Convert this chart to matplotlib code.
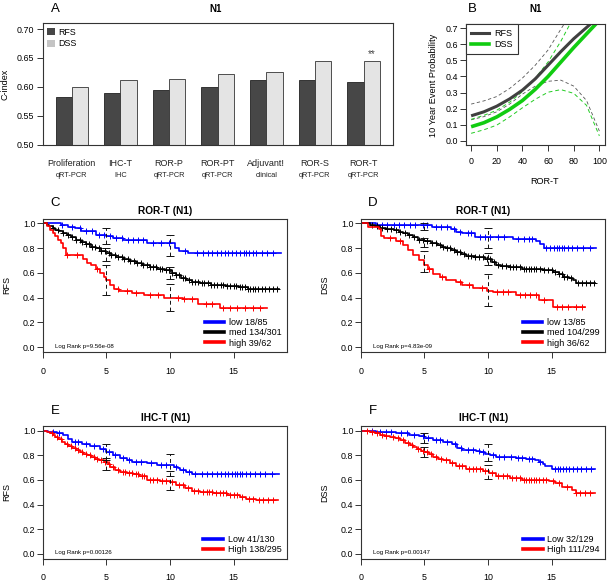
import numpy as np
import matplotlib
matplotlib.use('Agg')
import matplotlib.pyplot as plt
import matplotlib.transforms as mtransforms
from matplotlib.patches import Patch
from matplotlib.lines import Line2D

plt.rcParams['font.family'] = 'Liberation Sans'

W, H = 612, 584

# ---- panel A: C-index bars
a_names = ['Proliferation', 'IHC-T', 'ROR-P', 'ROR-PT', 'Adjuvant!', 'ROR-S', 'ROR-T']
a_methods = ['qRT-PCR', 'IHC', 'qRT-PCR', 'qRT-PCR', 'clinical', 'qRT-PCR', 'qRT-PCR']
a_rfs = [0.583, 0.590, 0.594, 0.599, 0.611, 0.612, 0.609]
a_dss = [0.600, 0.611, 0.614, 0.622, 0.626, 0.645, 0.644]

# ---- panel B: 10 year event probability vs ROR-T
b_x = [0, 10, 20, 30, 40, 50, 60, 70, 80, 90, 100]
b_rfs = [0.155, 0.18, 0.215, 0.26, 0.315, 0.385, 0.47, 0.555, 0.635, 0.705, 0.775]
b_rfs_hi = [0.228, 0.248, 0.275, 0.325, 0.39, 0.47, 0.565, 0.695, 0.82, 0.95, 1.1]
b_rfs_lo = [0.13, 0.15, 0.18, 0.228, 0.29, 0.34, 0.37, 0.377, 0.34, 0.25, 0.06]
b_dss = [0.087, 0.112, 0.148, 0.195, 0.25, 0.32, 0.40, 0.49, 0.58, 0.665, 0.75]
b_dss_hi = [0.133, 0.158, 0.19, 0.24, 0.305, 0.39, 0.49, 0.62, 0.77, 0.92, 1.05]
b_dss_lo = [0.046, 0.068, 0.097, 0.148, 0.205, 0.258, 0.302, 0.318, 0.295, 0.22, 0.03]

# ---- Kaplan-Meier curves (step times / survival), censor times, CI at 5 and 10 yrs
ci_times = [5, 10]

c_low_t = [0, 1.4, 2.0, 2.5, 3.0, 4.2, 5.0, 5.5, 6.3, 8.2, 10.4, 10.7, 11.4, 18.7]
c_low_s = [1.0, 0.99, 0.975, 0.96, 0.94, 0.91, 0.895, 0.88, 0.865, 0.84, 0.80, 0.78, 0.76, 0.76]
c_low_c = [1.5, 2.3, 2.9, 3.4, 3.9, 4.4, 4.8, 5.3, 5.8, 6.2, 6.7, 7.1, 7.5, 7.9, 8.7, 9.3, 9.9,
           11.2, 12.1, 12.6, 13.0, 13.3, 13.7, 14.0, 14.3, 14.6, 14.9, 15.2, 15.5, 15.8, 16.0,
           16.2, 16.5, 16.8, 17.2, 17.6, 18.1]
c_low_ci = [(0.83, 0.96), (0.74, 0.91)]
c_med_t = [0, 0.3, 0.5, 0.8, 1.0, 1.3, 1.6, 1.9, 2.2, 2.6, 3.0, 3.4, 3.8, 4.2, 4.6, 5.0, 5.4, 5.8,
           6.3, 6.8, 7.3, 7.8, 8.4, 9.0, 9.6, 10.2, 10.5, 10.9, 11.3, 11.7, 12.4, 13.2, 14.4, 15.4,
           16.1, 18.6]
c_med_s = [1.0, 0.99, 0.98, 0.965, 0.95, 0.935, 0.92, 0.905, 0.89, 0.87, 0.85, 0.83, 0.81, 0.80,
           0.78, 0.76, 0.745, 0.725, 0.71, 0.695, 0.68, 0.665, 0.645, 0.635, 0.62, 0.60, 0.58,
           0.56, 0.54, 0.525, 0.515, 0.505, 0.495, 0.485, 0.47, 0.47]
c_med_c = [0.8, 1.2, 1.6, 2.0, 2.3, 2.6, 2.9, 3.1, 3.4, 3.6, 3.9, 4.1, 4.4, 4.6, 4.9, 5.2, 5.4,
           5.7, 5.9, 6.2, 6.4, 6.7, 6.9, 7.2, 7.4, 7.7, 7.9, 8.2, 8.4, 8.7, 8.9, 9.2, 9.4, 9.7,
           9.9, 10.2, 10.5, 10.7, 11.0, 11.2, 11.5, 11.7, 12.0, 12.2, 12.5, 12.7, 13.0, 13.2,
           13.5, 13.7, 14.0, 14.2, 14.5, 14.7, 15.0, 15.2, 15.5, 15.7, 15.9, 16.1, 16.3, 16.5,
           16.7, 16.9, 17.2, 17.5, 17.8, 18.1, 18.4]
c_med_ci = [(0.70, 0.80), (0.55, 0.65)]
c_high_t = [0, 0.3, 0.6, 0.8, 1.0, 1.2, 1.4, 1.6, 1.8, 3.2, 3.5, 3.8, 4.2, 4.5, 4.8, 5.0, 5.3,
            5.6, 6.0, 7.0, 8.0, 9.5, 11.0, 12.2, 13.9, 17.6]
c_high_s = [1.0, 0.98, 0.95, 0.92, 0.90, 0.87, 0.84, 0.80, 0.745, 0.71, 0.68, 0.66, 0.63, 0.60,
            0.57, 0.54, 0.50, 0.47, 0.45, 0.435, 0.42, 0.40, 0.39, 0.35, 0.32, 0.32]
c_high_c = [1.9, 2.7, 4.3, 5.9, 6.6, 7.3, 8.4, 9.1, 10.6, 11.1, 11.7, 12.8, 13.3, 14.2, 14.7,
            15.3, 15.9, 16.5, 17.1]
c_high_ci = [(0.42, 0.66), (0.29, 0.51)]

d_low_t = [0, 1.2, 4.6, 5.6, 7.1, 7.5, 8.0, 9.0, 12.0, 13.8, 14.1, 14.4, 18.5]
d_low_s = [1.0, 0.99, 0.985, 0.975, 0.955, 0.93, 0.92, 0.89, 0.875, 0.86, 0.83, 0.80, 0.80]
d_low_c = [1.3, 1.7, 2.1, 2.6, 3.0, 3.4, 3.9, 4.3, 4.9, 5.2, 5.9, 6.3, 6.8, 7.3, 7.8, 8.4, 8.7,
           9.4, 9.8, 10.2, 10.8, 11.3, 12.4, 12.8, 13.2, 13.5, 14.6, 14.9, 15.2, 15.4, 15.6,
           15.8, 16.0, 16.3, 16.6, 17.0, 17.5, 18.0]
d_low_ci = [(0.95, 1.0), (0.80, 0.96)]
d_med_t = [0, 0.7, 1.1, 1.5, 2.0, 2.6, 3.0, 3.3, 3.7, 4.1, 4.5, 5.0, 5.5, 6.0, 6.4, 6.7, 7.1, 7.5,
           7.9, 8.3, 9.0, 9.8, 10.3, 10.6, 11.0, 11.7, 12.7, 14.3, 15.1, 15.6, 15.9, 16.4, 16.7,
           16.9, 18.4]
d_med_s = [1.0, 0.99, 0.98, 0.965, 0.955, 0.945, 0.93, 0.92, 0.905, 0.89, 0.87, 0.855, 0.84,
           0.825, 0.81, 0.80, 0.785, 0.765, 0.75, 0.735, 0.725, 0.71, 0.69, 0.665, 0.655, 0.645,
           0.63, 0.62, 0.61, 0.59, 0.57, 0.555, 0.54, 0.515, 0.515]
d_med_c = [0.9, 1.3, 1.7, 2.1, 2.4, 2.8, 3.1, 3.5, 3.8, 4.2, 4.6, 4.9, 5.2, 5.6, 5.9, 6.2, 6.5,
           6.8, 7.0, 7.3, 7.6, 7.8, 8.1, 8.4, 8.7, 9.0, 9.3, 9.6, 9.9, 10.2, 10.5, 10.8, 11.1,
           11.4, 11.7, 12.0, 12.2, 12.5, 12.8, 13.0, 13.2, 13.4, 13.6, 13.8, 14.1, 14.4, 14.7,
           15.0, 15.3, 15.6, 15.8, 16.0, 16.2, 16.5, 17.1, 17.4, 17.7, 18.0, 18.3]
d_med_ci = [(0.81, 0.88), (0.66, 0.76)]
d_high_t = [0, 0.6, 1.4, 1.6, 1.8, 2.8, 3.3, 3.7, 4.1, 4.6, 5.0, 5.3, 5.7, 6.2, 6.7, 7.5, 8.0,
            8.8, 9.9, 10.4, 12.2, 14.0, 15.1, 17.6]
d_high_s = [1.0, 0.975, 0.955, 0.895, 0.88, 0.855, 0.825, 0.785, 0.745, 0.705, 0.665, 0.63,
            0.595, 0.565, 0.545, 0.525, 0.50, 0.475, 0.455, 0.445, 0.42, 0.38, 0.325, 0.325]
d_high_c = [2.3, 3.1, 5.4, 6.4, 7.8, 8.5, 9.5, 10.7, 11.2, 11.6, 12.5, 12.9, 13.3, 13.8, 14.4,
            15.4, 15.8, 16.3, 16.9, 17.4]
d_high_ci = [(0.61, 0.78), (0.33, 0.59)]

e_low_t = [0, 0.4, 0.6, 1.1, 1.6, 2.0, 2.3, 3.1, 3.7, 4.5, 5.0, 5.5, 6.1, 6.6, 7.0, 8.2, 9.0,
           10.3, 10.6, 10.8, 11.3, 11.7, 18.6]
e_low_s = [1.0, 0.995, 0.99, 0.98, 0.965, 0.93, 0.91, 0.895, 0.875, 0.85, 0.825, 0.805, 0.78,
           0.76, 0.75, 0.74, 0.725, 0.705, 0.695, 0.68, 0.665, 0.65, 0.65]
e_low_c = [0.8, 1.3, 2.5, 2.8, 3.4, 4.0, 4.7, 5.2, 5.7, 6.3, 6.8, 7.3, 7.7, 8.5, 9.3, 9.7, 10.5,
           11.0, 11.5, 12.0, 12.5, 12.9, 13.3, 13.7, 14.0, 14.3, 14.6, 14.9, 15.1, 15.3, 15.5,
           15.7, 16.0, 16.3, 16.7, 17.1, 17.5, 18.0]
e_low_ci = [(0.76, 0.89), (0.635, 0.81)]
e_high_t = [0, 0.3, 0.6, 0.8, 1.0, 1.2, 1.5, 1.75, 2.0, 2.3, 2.6, 2.9, 3.2, 3.5, 3.8, 4.1, 4.4,
            4.8, 5.1, 5.3, 5.7, 6.1, 6.6, 7.1, 7.6, 8.2, 9.2, 10.0, 10.5, 11.2, 11.7, 12.4, 13.4,
            14.5, 15.5, 16.0, 16.8, 18.5]
e_high_s = [1.0, 0.99, 0.98, 0.965, 0.95, 0.93, 0.91, 0.89, 0.875, 0.86, 0.845, 0.83, 0.815,
            0.805, 0.79, 0.775, 0.765, 0.75, 0.73, 0.705, 0.685, 0.665, 0.655, 0.645, 0.63, 0.60,
            0.595, 0.58, 0.56, 0.535, 0.51, 0.50, 0.49, 0.475, 0.46, 0.445, 0.435, 0.435]
e_high_c = [0.7, 1.1, 1.4, 1.9, 2.2, 2.5, 2.8, 3.1, 3.4, 3.7, 4.0, 4.3, 4.6, 4.9, 5.2, 5.5, 5.9,
            6.3, 6.5, 6.8, 7.0, 7.3, 7.5, 7.8, 8.0, 8.4, 8.7, 9.0, 9.4, 9.7, 10.2, 10.7, 11.0,
            11.4, 11.9, 12.2, 12.6, 12.9, 13.1, 13.3, 13.6, 13.9, 14.2, 14.4, 14.7, 15.0, 15.3,
            15.7, 16.2, 16.5, 17.0, 17.3, 17.7, 18.1]
e_high_ci = [(0.68, 0.78), (0.515, 0.67)]

f_low_t = [0, 1.2, 2.8, 3.8, 4.6, 5.0, 5.7, 6.5, 7.2, 7.6, 8.0, 9.1, 9.4, 9.8, 10.2, 10.6, 12.2,
           13.0, 13.7, 14.0, 14.3, 14.5, 15.0, 18.4]
f_low_s = [1.0, 0.99, 0.98, 0.965, 0.955, 0.94, 0.925, 0.91, 0.89, 0.86, 0.845, 0.835, 0.825,
           0.815, 0.805, 0.79, 0.78, 0.77, 0.76, 0.75, 0.73, 0.715, 0.69, 0.69]
f_low_c = [0.9, 1.5, 2.0, 2.4, 3.2, 3.6, 4.2, 4.9, 5.3, 5.9, 6.2, 6.8, 7.4, 7.9, 8.4, 8.8, 9.3,
           9.6, 10.4, 10.9, 11.3, 11.8, 12.4, 12.7, 13.2, 13.5, 14.1, 15.3, 15.5, 15.7, 15.9,
           16.1, 16.4, 16.7, 17.0, 17.3, 17.7, 18.1]
f_low_ci = [(0.90, 0.98), (0.755, 0.89)]
f_high_t = [0, 0.7, 1.1, 1.5, 1.9, 2.3, 2.7, 3.1, 3.5, 3.85, 4.1, 4.4, 4.7, 5.0, 5.4, 5.7, 6.1,
            6.5, 7.0, 7.5, 8.3, 9.6, 10.1, 10.6, 11.7, 12.7, 14.8, 15.3, 15.8, 16.6, 16.9, 18.4]
f_high_s = [1.0, 0.99, 0.98, 0.965, 0.96, 0.95, 0.94, 0.925, 0.905, 0.885, 0.87, 0.85, 0.84,
            0.83, 0.81, 0.79, 0.775, 0.765, 0.735, 0.71, 0.69, 0.675, 0.655, 0.635, 0.615, 0.60,
            0.595, 0.575, 0.545, 0.52, 0.49, 0.49]
f_high_c = [0.5, 0.9, 1.3, 1.7, 2.0, 2.5, 2.9, 3.3, 3.7, 4.0, 4.5, 4.9, 5.2, 5.5, 5.9, 6.3, 6.7,
            7.2, 7.7, 8.0, 8.5, 8.8, 9.1, 9.4, 9.8, 10.3, 10.8, 11.2, 11.5, 11.9, 12.2, 12.5,
            12.8, 13.0, 13.2, 13.4, 13.6, 13.8, 14.0, 14.3, 14.6, 15.1, 15.6, 16.2, 16.9, 17.2,
            17.6, 18.0]
f_high_ci = [(0.79, 0.87), (0.605, 0.72)]

fig = plt.figure(figsize=(W / 100, H / 100), dpi=100)


def px_axes(l, t, r, b):
    ax = fig.add_axes([l / W, 1 - b / H, (r - l) / W, (b - t) / H])
    for s in ax.spines.values():
        s.set_linewidth(0.8)
        s.set_color('#333333')
    return ax


def ftext(x, y, s, **kw):
    fig.text(x / W, 1 - y / H, s, **kw)


# ================= A =================
axA = px_axes(42.7, 23.3, 392.7, 144.5)
idx = np.arange(len(a_names))
axA.bar(idx * 3 + 1.5, a_rfs, width=1, color='#474747', edgecolor='#222222', lw=0.6)
axA.bar(idx * 3 + 2.5, a_dss, width=1, color='#e4e4e4', edgecolor='#333333', lw=0.6)
axA.set_xlim(0.2, 21.8)
axA.set_ylim(0.5, 0.71)
axA.set_yticks([0.50, 0.55, 0.60, 0.65, 0.70])
axA.set_yticklabels(['0.50', '0.55', '0.60', '0.65', '0.70'])
axA.set_xticks([])
axA.tick_params(axis='y', labelsize=6.4, length=4, width=0.7, pad=2.5, color='#333333')
trA = mtransforms.blended_transform_factory(axA.transData, fig.transFigure)
for i in range(len(a_names)):
    axA.text(i * 3 + 2, 1 - 163 / H, a_names[i], transform=trA, ha='center', va='center',
             fontsize=6.5, color='#222222')
    axA.text(i * 3 + 2, 1 - 175.5 / H, a_methods[i], transform=trA, ha='center', va='center',
             fontsize=5.3, color='#222222')
axA.text(idx[-1] * 3 + 2.5, a_dss[-1] + 0.004, '**', ha='center', va='bottom', fontsize=7,
         color='#444444')
axA.legend(handles=[Patch(facecolor='#474747', edgecolor='none', label='RFS'),
                    Patch(facecolor='#c4c4c4', edgecolor='none', label='DSS')],
           loc='upper left', frameon=False, fontsize=6.4, handlelength=0.85, handleheight=0.9,
           handletextpad=0.45, labelspacing=0.3, borderaxespad=0.3, borderpad=0.2)
ftext(5, 84, 'C-index', rotation=90, ha='center', va='center', fontsize=6.5)
ftext(55, 9.5, 'A', ha='center', va='center', fontsize=9.5)
ftext(216, 9.5, 'N1', ha='center', va='center', fontsize=7, fontweight='bold')

# ================= B =================
axB = px_axes(466, 23.8, 604.5, 145.2)
axB.plot(b_x, b_rfs_hi, color='#555555', lw=0.6, ls=(0, (4, 3)))
axB.plot(b_x, b_rfs_lo, color='#555555', lw=0.6, ls=(0, (4, 3)))
axB.plot(b_x, b_dss_hi, color='#22cc22', lw=0.7, ls=(0, (4, 3)))
axB.plot(b_x, b_dss_lo, color='#22cc22', lw=0.7, ls=(0, (4, 3)))
axB.plot(b_x, b_rfs, color='#404040', lw=2.2, solid_capstyle='butt')
axB.plot(b_x, b_dss, color='#11cc11', lw=2.6, solid_capstyle='butt')
axB.set_xlim(-4, 104)
axB.set_ylim(-0.028, 0.728)
axB.set_xticks([0, 20, 40, 60, 80, 100])
axB.set_yticks([0.0, 0.1, 0.2, 0.3, 0.4, 0.5, 0.6, 0.7])
axB.tick_params(labelsize=6.4, length=4, width=0.7, color='#333333')
axB.tick_params(axis='y', pad=1.5)
axB.tick_params(axis='x', pad=4.5)
legB = axB.legend(handles=[Line2D([], [], color='#404040', lw=2.2, label='RFS'),
                           Line2D([], [], color='#11cc11', lw=2.6, label='DSS')],
                  loc='upper left', bbox_to_anchor=(0, 1), borderaxespad=0, fontsize=6.5,
                  fancybox=False, handlelength=2.0, handletextpad=0.6, labelspacing=0.3,
                  borderpad=0.55, framealpha=1)
legB.get_frame().set_edgecolor('#333333')
legB.get_frame().set_linewidth(0.8)
ftext(433, 85, '10 Year Event Probability', rotation=90, ha='center', va='center',
      fontsize=6.6)
ftext(545, 182, 'ROR-T', ha='center', va='center', fontsize=6.6)
ftext(472, 9.5, 'B', ha='center', va='center', fontsize=9.5)
ftext(536, 9.5, 'N1', ha='center', va='center', fontsize=7, fontweight='bold')

# ================= KM panels =================
panels = [
    dict(box=(42.7, 218.5, 287, 352), letter='C', ylab='RFS', title='ROR-T (N1)',
         p='Log Rank p=9.56e-08',
         curves=[('blue', 'low 18/85', c_low_t, c_low_s, c_low_c, c_low_ci),
                 ('black', 'med 134/301', c_med_t, c_med_s, c_med_c, c_med_ci),
                 ('red', 'high 39/62', c_high_t, c_high_s, c_high_c, c_high_ci)]),
    dict(box=(360.7, 218.5, 605, 352), letter='D', ylab='DSS', title='ROR-T (N1)',
         p='Log Rank p=4.83e-09',
         curves=[('blue', 'low 13/85', d_low_t, d_low_s, d_low_c, d_low_ci),
                 ('black', 'med 104/299', d_med_t, d_med_s, d_med_c, d_med_ci),
                 ('red', 'high 36/62', d_high_t, d_high_s, d_high_c, d_high_ci)]),
    dict(box=(42.7, 426, 287, 558.5), letter='E', ylab='RFS', title='IHC-T (N1)',
         p='Log Rank p=0.00126',
         curves=[('blue', 'Low 41/130', e_low_t, e_low_s, e_low_c, e_low_ci),
                 ('red', 'High 138/295', e_high_t, e_high_s, e_high_c, e_high_ci)]),
    dict(box=(360.7, 426, 605, 558.5), letter='F', ylab='DSS', title='IHC-T (N1)',
         p='Log Rank p=0.00147',
         curves=[('blue', 'Low 32/129', f_low_t, f_low_s, f_low_c, f_low_ci),
                 ('red', 'High 111/294', f_high_t, f_high_s, f_high_c, f_high_ci)]),
]

for pn in panels:
    l, t, r, b = pn['box']
    ax = px_axes(l, t, r, b)
    handles = []
    for col, lab, kt, ks, kc, kci in pn['curves']:
        kt = np.array(kt)
        ks = np.array(ks)
        ax.plot(kt, ks, drawstyle='steps-post', color=col, lw=1.2, zorder=2)
        cy = ks[np.searchsorted(kt, kc, side='right') - 1]
        ax.plot(kc, cy, ls='none', marker='+', ms=4.5, mew=0.7, color=col, zorder=2)
        handles.append(Line2D([], [], color=col, lw=2.6, label=lab))
    for col, lab, kt, ks, kc, kci in pn['curves']:
        lo = np.array([c[0] for c in kci])
        hi = np.array([c[1] for c in kci])
        mid = (lo + hi) / 2
        eb = ax.errorbar(ci_times, mid, yerr=[mid - lo, hi - mid], fmt='none', ecolor='#111111',
                         elinewidth=0.7, capsize=3, capthick=0.7, zorder=3)
        eb[2][0].set_linestyle((0, (4, 3)))
    ax.set_xlim(0, 19.2)
    ax.set_ylim(-0.04, 1.04)
    ax.set_xticks([0, 5, 10, 15])
    ax.set_yticks([0.0, 0.2, 0.4, 0.6, 0.8, 1.0])
    ax.tick_params(labelsize=6.4, length=4, width=0.7, color='#333333')
    ax.tick_params(axis='y', pad=1.2)
    ax.tick_params(axis='x', pad=6.5)
    ax.legend(handles=handles, loc='lower right', bbox_to_anchor=(0.985, 0.02), frameon=False,
              fontsize=6.5, handlelength=2.2, handletextpad=0.5, labelspacing=0.12,
              borderaxespad=0, borderpad=0.2)
    ax.text(0.05, 0.025, pn['p'], transform=ax.transAxes, fontsize=4.4, ha='left',
            va='bottom')
    ftext(l - 35.7, (t + b) / 2, pn['ylab'], rotation=90,
          ha='center', va='center', fontsize=6.5)
    ftext(l + 12.3, t - 15.5, pn['letter'], ha='center', va='center', fontsize=9.5)
    ftext((l + r) / 2 + 0.3, t - 8, pn['title'], ha='center', va='center', fontsize=7.3,
          fontweight='bold')

fig.savefig('out.png', dpi=100)
